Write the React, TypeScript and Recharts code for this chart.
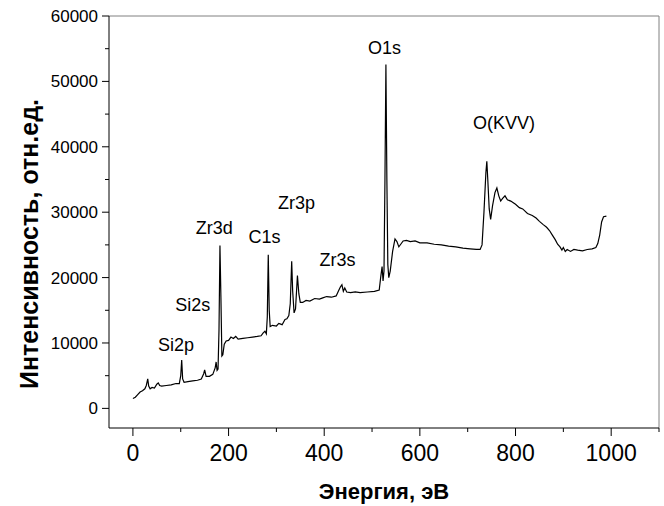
import { LineChart, Line, XAxis, YAxis, ReferenceLine, ReferenceDot } from "recharts";

// binding energy, eV
const energy = [
  0, 5, 10, 15, 20, 25, 28, 31, 33, 36, 40, 45, 50, 53, 56, 60, 70, 80, 90, 97,
  100, 102, 104, 107, 115, 125, 135, 143, 148, 150, 153, 160, 167, 172, 174, 176, 178, 180, 182, 184,
  186, 188, 191, 195, 200, 205, 210, 215, 220, 230, 240, 250, 260, 268, 272, 276, 279, 281, 283, 285,
  287, 292, 300, 305, 312, 318, 322, 326, 329, 332, 334, 337, 340, 344, 347, 350, 355, 362, 370, 380,
  390, 397, 405, 415, 425, 430, 434, 437, 440, 443, 447, 455, 465, 475, 490, 505, 515, 518, 521, 523,
  525, 527, 529, 531, 533, 535, 538, 543, 548, 552, 556, 560, 565, 572, 580, 590, 600, 615, 630, 645,
  660, 675, 690, 705, 718, 726, 730, 734, 738, 740, 742, 745, 748, 752, 757, 761, 765, 769, 773, 778,
  783, 790, 800, 808, 815, 825, 835, 843, 850, 858, 865, 871, 877, 883, 888, 893, 897, 900, 904, 908,
  915, 922, 930, 940, 950, 960, 968, 972, 976, 980, 984, 990,
];

// intensity, counts
const intensity = [
  1500, 1700, 2100, 2500, 2700, 3000, 3500, 4500, 3400, 3000, 3200, 3100, 3700, 3900, 3500, 3400, 3500, 3600, 3800, 3800,
  5000, 7400, 4500, 4000, 4100, 4200, 4300, 4500, 5300, 5900, 4900, 4900, 5200, 6200, 7100, 5800, 6000, 12000, 24900, 17000,
  8000, 8200, 9800, 10300, 10400, 10900, 10700, 11000, 10600, 10700, 10800, 10900, 11000, 11100, 11500, 11800, 11400, 14000, 23500, 15000,
  12500, 12700, 12600, 13000, 12800, 13600, 13700, 14200, 16000, 22500, 18000, 14600, 15200, 20300, 17500, 16200, 16200, 16500, 16400, 16800,
  16700, 16900, 17100, 17000, 17200, 18000, 18600, 18900, 17900, 18400, 17800, 17700, 17800, 17700, 17800, 17900, 18100, 20000, 21700, 19500,
  21000, 35000, 52600, 35000, 22000, 20000, 21000, 24000, 25900, 25500, 24700, 25100, 25600, 25700, 25500, 25600, 25300, 25300, 25100, 25000,
  24800, 24700, 24500, 24400, 24300, 24300, 25000, 30000, 36000, 37800, 35000, 30500, 28900, 31000, 33000, 33700, 32500, 31700, 32100, 32500,
  31900, 31700, 31200, 30700, 30500, 29800, 29500, 29100, 28600, 28100, 27700, 27200, 26500, 25800, 25100, 24700, 24200, 24600, 24000, 24300,
  24000, 24300, 24200, 24100, 24300, 24400, 24600, 25200, 26500, 28500, 29300, 29400,
];

const xTicks = [0, 100, 200, 300, 400, 500, 600, 700, 800, 900, 1000, 1100];
const yTicks = [0, 5000, 10000, 15000, 20000, 25000, 30000, 35000, 40000, 45000, 50000, 55000, 60000];

// peak labels, placed at (eV, counts) of the text centre
const peakNames = ["Si2p", "Si2s", "Zr3d", "C1s", "Zr3p", "Zr3s", "O1s", "O(KVV)"];
const peakX = [90, 125, 170, 275, 342, 428, 526, 776];
const peakY = [9700, 15800, 27600, 26200, 31400, 22700, 55100, 43600];

const data = energy.map((e, i) => ({ e, v: intensity[i] }));
const FONT = "'Liberation Sans', Arial, sans-serif";

const XTick = (props: any) => {
  const { x, y, payload } = props;
  const major = payload.value % 200 === 0 && payload.value <= 1000;
  return (
    <g>
      <line x1={x} y1={y} x2={x} y2={y + (major ? 8 : 4)} stroke="#000" />
      {major && (
        <text x={x} y={y + 33} textAnchor="middle" fontSize={23} fontFamily={FONT} fill="#000">
          {payload.value}
        </text>
      )}
    </g>
  );
};

const YTick = (props: any) => {
  const { x, y, payload } = props;
  const major = payload.value % 10000 === 0;
  return (
    <g>
      <line x1={x} y1={y} x2={x - (major ? 7 : 4)} y2={y} stroke="#000" />
      {major && (
        <text x={x - 11} y={y + 6} textAnchor="end" fontSize={17} fontFamily={FONT} fill="#000">
          {payload.value}
        </text>
      )}
    </g>
  );
};

const PeakText = (name: string) => (props: any) => (
  <text
    x={props.cx}
    y={props.cy + 6}
    textAnchor="middle"
    fontSize={18}
    fontFamily={FONT}
    fill="#000"
  >
    {name}
  </text>
);

export default function App() {
  return (
    <div style={{ position: "fixed", left: 0, top: 0, background: "#fff" }}>
      <LineChart
        width={664}
        height={506}
        data={data}
        margin={{ top: 16, right: 5, bottom: 0, left: 0 }}
      >
        <XAxis
          dataKey="e"
          type="number"
          domain={[-50, 1100]}
          ticks={xTicks}
          interval={0}
          tick={<XTick />}
          tickLine={false}
          tickSize={0}
          tickMargin={0}
          height={78}
          axisLine={{ stroke: "#000" }}
          label={(p: any) => {
            const vb = p.viewBox || { x: 109, y: 428, width: 550, height: 78 };
            return (
              <text
                x={vb.x + vb.width / 2}
                y={vb.y + 71}
                textAnchor="middle"
                fontSize={22}
                fontWeight="bold"
                fontFamily={FONT}
                fill="#000"
              >
                Энергия, эВ
              </text>
            );
          }}
        />
        <YAxis
          type="number"
          domain={[-3000, 60000]}
          ticks={yTicks}
          interval={0}
          tick={<YTick />}
          tickLine={false}
          tickSize={0}
          tickMargin={0}
          width={109}
          axisLine={{ stroke: "#000" }}
          label={() => (
            <text
              x={0}
              y={0}
              transform="translate(38, 244) rotate(-90)"
              textAnchor="middle"
              fontSize={25}
              fontWeight="bold"
              fontFamily={FONT}
              fill="#000"
            >
              Интенсивность, отн.ед.
            </text>
          )}
        />
        <ReferenceLine y={60000} stroke="#808080" ifOverflow="visible" />
        <ReferenceLine x={1100} stroke="#808080" ifOverflow="visible" />
        <Line
          type="linear"
          dataKey="v"
          stroke="#000"
          strokeWidth={1.2}
          dot={false}
          isAnimationActive={false}
        />
        {peakNames.map((n, i) => (
          <ReferenceDot
            key={n}
            x={peakX[i]}
            y={peakY[i]}
            r={0}
            ifOverflow="visible"
            shape={PeakText(n)}
          />
        ))}
      </LineChart>
    </div>
  );
}
